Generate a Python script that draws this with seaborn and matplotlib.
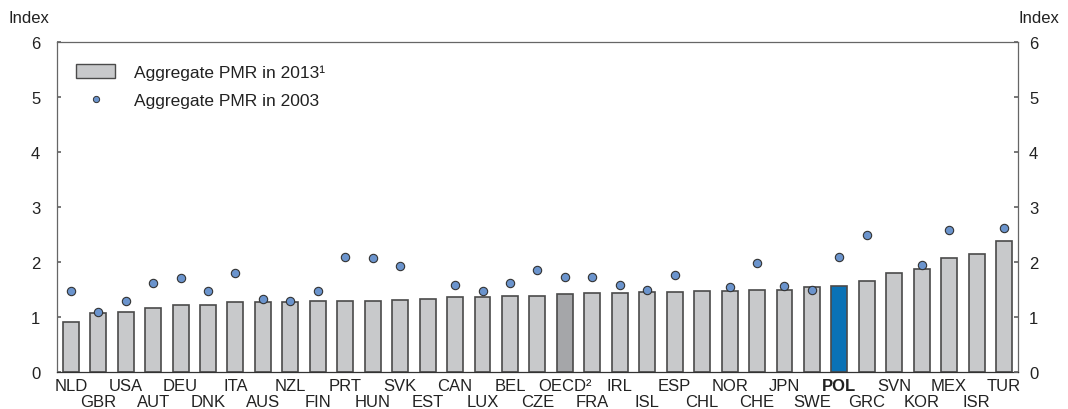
import pandas as pd
import matplotlib
matplotlib.use("Agg")
import matplotlib.pyplot as plt
from matplotlib.patches import Patch
from matplotlib.lines import Line2D
import seaborn as sns
import numpy as np

BAR_GREY = "#c8c9cb"
OECD_GREY = "#a5a6a9"
POL_BLUE = "#0a72b6"
DOT_BLUE = "#6b94cd"
EDGE = "#4a4a4a"
TEXT = "#222222"
FS = 12

countries = ["NLD", "GBR", "USA", "AUT", "DEU", "DNK", "ITA", "AUS", "NZL", "FIN",
             "PRT", "HUN", "SVK", "EST", "CAN", "LUX", "BEL", "CZE", "OECD²", "FRA",
             "IRL", "ISL", "ESP", "CHL", "NOR", "CHE", "JPN", "SWE", "POL", "GRC",
             "SVN", "KOR", "MEX", "ISR", "TUR"]
pmr_2013 = [0.91, 1.08, 1.10, 1.17, 1.21, 1.22, 1.27, 1.27, 1.27, 1.29,
            1.30, 1.30, 1.31, 1.32, 1.37, 1.37, 1.38, 1.39, 1.42, 1.43,
            1.44, 1.46, 1.46, 1.47, 1.48, 1.49, 1.49, 1.54, 1.57, 1.66,
            1.80, 1.88, 2.08, 2.15, 2.39]
pmr_2003 = [1.48, 1.09, 1.30, 1.61, 1.71, 1.47, 1.80, 1.32, 1.29, 1.48,
            2.09, 2.07, 1.92, np.nan, 1.59, 1.47, 1.61, 1.86, 1.73, 1.73,
            1.59, 1.50, 1.77, np.nan, 1.55, 1.99, 1.57, 1.49, 2.09, 2.49,
            np.nan, 1.95, 2.59, np.nan, 2.61]
yticks = [0, 1, 2, 3, 4, 5, 6]

df = pd.DataFrame({"country": countries, "pmr_2013": pmr_2013, "pmr_2003": pmr_2003})

sns.set_theme(style="white")
plt.rcParams["font.family"] = ["Liberation Sans", "DejaVu Sans"]

palette = {c: BAR_GREY for c in countries}
palette["OECD²"] = OECD_GREY
palette["POL"] = POL_BLUE

fig = plt.figure(figsize=(10.68, 4.10), dpi=100)
ax = fig.add_axes([0.0534, 0.0902, 0.8996, 0.8049])

sns.barplot(data=df, x="country", y="pmr_2013", hue="country", palette=palette,
            order=countries, legend=False, width=0.58, edgecolor=EDGE,
            linewidth=1.2, saturation=1, ax=ax)
sns.stripplot(data=df, x="country", y="pmr_2003", order=countries, jitter=False,
              color=DOT_BLUE, size=6, edgecolor="#333333", linewidth=0.8,
              ax=ax, zorder=5)

ax.set_xlim(-0.5, len(countries) - 0.5)
ax.set_ylim(0, 6)
ax.set_yticks(yticks)
ax.set_xlabel("")
ax.set_ylabel("")
ax.set_xticks(range(len(countries)))
ax.set_xticklabels(countries, fontsize=FS, color=TEXT)
ax.tick_params(axis="x", length=0)
# alternate labels on two rows, POL in bold
for i, (tick, lab) in enumerate(zip(ax.xaxis.get_major_ticks(), ax.get_xticklabels())):
    tick.set_pad(4 if i % 2 == 0 else 16)
    if lab.get_text() == "POL":
        lab.set_fontweight("bold")
ax.tick_params(axis="y", direction="in", length=3, labelsize=FS,
               labelcolor=TEXT, color="#666666", pad=12)
for s in ax.spines.values():
    s.set_color("#666666")
    s.set_linewidth(0.9)
ax.spines["bottom"].set_color("#333333")

ax2 = ax.twinx()
ax2.set_ylim(0, 6)
ax2.set_yticks(yticks)
ax2.tick_params(axis="y", direction="in", length=3, labelsize=FS,
                labelcolor=TEXT, color="#666666", pad=8)
for s in ax2.spines.values():
    s.set_visible(False)

fig.text(0.008, 0.955, "Index", fontsize=FS, color=TEXT, ha="left", va="center")
fig.text(0.992, 0.955, "Index", fontsize=FS, color=TEXT, ha="right", va="center")

handles = [
    Patch(facecolor=BAR_GREY, edgecolor=EDGE, linewidth=1.0, label="Aggregate PMR in 2013¹"),
    Line2D([], [], marker="o", linestyle="none", markersize=4.5, markerfacecolor=DOT_BLUE,
           markeredgecolor="#333333", markeredgewidth=0.7, label="Aggregate PMR in 2003"),
]
ax.legend(handles=handles, loc="upper left", bbox_to_anchor=(0.004, 0.982),
          frameon=False, fontsize=12.5, handlelength=2.2, handleheight=0.9,
          handletextpad=1.1, labelspacing=0.7, labelcolor=TEXT)

fig.savefig("out.png", dpi=100)
